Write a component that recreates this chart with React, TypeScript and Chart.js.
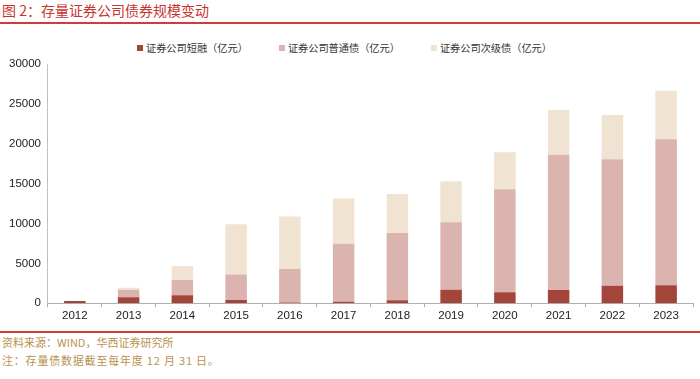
import React, { useEffect, useRef } from "react";
import { Chart, registerables } from "chart.js";

Chart.register(...registerables);

const years = ["2012", "2013", "2014", "2015", "2016", "2017", "2018", "2019", "2020", "2021", "2022", "2023"];
const shortTerm = [280, 750, 1000, 400, 100, 180, 380, 1690, 1380, 1640, 2190, 2260];
const ordinary = [0, 950, 1900, 3200, 4200, 7290, 8430, 8460, 12920, 16980, 15850, 18290];
const subordinated = [0, 250, 1750, 6300, 6580, 5660, 4900, 5160, 4620, 5620, 5570, 6080];
const seriesNames = ["证券公司短融（亿元）", "证券公司普通债（亿元）", "证券公司次级债（亿元）"];
const seriesColors = ["#A3453A", "#DBB3AF", "#F1E3D1"];
const yTicks = [0, 5000, 10000, 15000, 20000, 25000, 30000];

const title = "图 2：存量证券公司债券规模变动";
const source = "资料来源：WIND，华西证券研究所";
const note = "注：存量债数据截至每年度 12 月 31 日。";

export default function App() {
  const ref = useRef<HTMLCanvasElement>(null);
  useEffect(() => {
    document.body.style.margin = "0";
    const ctx = ref.current!;
    const chart = new Chart(ctx, {
      type: "bar",
      data: {
        labels: years,
        datasets: [shortTerm, ordinary, subordinated].map((d, i) => ({
          label: seriesNames[i],
          data: d,
          backgroundColor: seriesColors[i],
          barPercentage: 0.4,
          categoryPercentage: 1,
        })),
      },
      options: {
        animation: false,
        responsive: false,
        maintainAspectRatio: false,
        layout: { padding: { left: 2, right: 7, top: 14, bottom: 5 } },
        plugins: {
          legend: { display: false },
          tooltip: { enabled: false },
        },
        scales: {
          x: {
            stacked: true,
            grid: { display: true, drawOnChartArea: false, drawTicks: true, tickLength: 4, color: "#b0b0b0", offset: true },
            border: { display: true, color: "#b0b0b0" },
            ticks: { color: "#222", font: { family: "'Liberation Sans', Arial", size: 11.5 }, padding: 2 },
          },
          y: {
            stacked: true,
            min: 0,
            max: 30000,
            afterBuildTicks: (axis: any) => {
              axis.ticks = yTicks.map((v) => ({ value: v }));
            },
            grid: { display: false, drawTicks: false, tickLength: 0 },
            border: { display: true, color: "#c0c0c0" },
            ticks: {
              color: "#222",
              font: { family: "'Liberation Sans', Arial", size: 11.5 },
              padding: 7,
              callback: (v: any) => String(v),
            },
          },
        },
      },
    });
    return () => chart.destroy();
  }, []);

  return (
    <div style={{ position: "relative", width: 700, height: 379, background: "#fff", overflow: "hidden" }}>
      <div
        style={{
          position: "absolute",
          left: 2,
          top: 1,
          fontFamily: "'Noto Sans CJK SC'",
          fontSize: 14,
          color: "#C8332E",
          lineHeight: "18px",
        }}
      >
        {title}
      </div>
      <div style={{ position: "absolute", left: 0, top: 22, width: 700, height: 2, background: "#D33A3A" }} />
      <div
        style={{
          position: "absolute",
          left: 137,
          top: 41,
          display: "flex",
          gap: 31,
          fontFamily: "'Noto Sans CJK SC'",
          fontSize: 10.2,
          color: "#333",
          lineHeight: "14px",
          whiteSpace: "nowrap",
        }}
      >
        {seriesNames.map((n, i) => (
          <div key={n} style={{ display: "flex", alignItems: "center" }}>
            <span style={{ display: "inline-block", width: 6, height: 6, background: seriesColors[i], marginRight: 3 }} />
            <span>{n}</span>
          </div>
        ))}
      </div>
      <canvas ref={ref} width={700} height={280} style={{ position: "absolute", left: 0, top: 50 }} />
      <div style={{ position: "absolute", left: 0, top: 331, width: 700, height: 2, background: "#D33A3A" }} />
      <div
        style={{
          position: "absolute",
          left: 2,
          top: 333,
          fontFamily: "'Noto Sans CJK SC'",
          fontSize: 11,
          color: "#B8924E",
          lineHeight: "18px",
        }}
      >
        <div>{source}</div>
        <div style={{ letterSpacing: 0.8 }}>{note}</div>
      </div>
    </div>
  );
}
